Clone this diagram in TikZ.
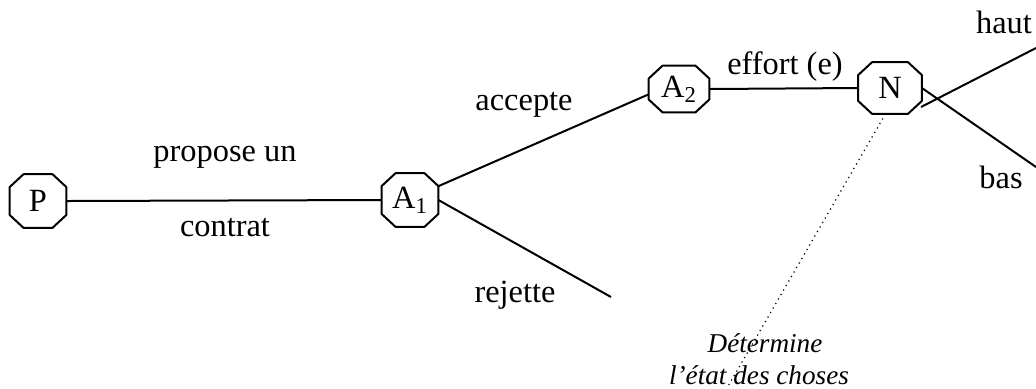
\documentclass[tikz,border=0pt]{standalone}
\usepackage{fontspec}
\setmainfont{Liberation Serif}
\begin{document}
\begin{tikzpicture}[x=0.5pt,y=-0.5pt,
  player/.style={rectangle, inner sep=0pt, font=\fontsize{16.2}{19}\selectfont},
  octagon/.style={line width=1pt, line join=round},
  branch/.style={line width=1pt},
  chance/.style={line width=0.6pt, dotted},
  lbl/.style={font=\fontsize{16.2}{19}\selectfont, inner sep=0pt},
  note/.style={font=\fontsize{13.6}{16}\selectfont\itshape, inner sep=0pt}]
\useasboundingbox (0,0) rectangle (1036,388);

% decision nodes (octagonal outlines are drawn round them below)
\node[player, minimum width=28pt, minimum height=26.5pt] (P)  at (38,201) {P};
\node[player, minimum width=28pt, minimum height=26.5pt] (A1) at (410,200) {A\textsubscript{1}};
\node[player, minimum width=30pt, minimum height=23pt]   (A2) at (679,89) {A\textsubscript{2}};
\node[player, minimum width=31.5pt, minimum height=25.5pt] (N) at (890,88) {N};

\foreach \n in {P,A1,A2,N}
  \draw[octagon]
    ([xshift=7pt]\n.north west) -- ([xshift=-7pt]\n.north east)
    -- ([yshift=-6.5pt]\n.north east) -- ([yshift=6.5pt]\n.south east)
    -- ([xshift=-7pt]\n.south east) -- ([xshift=7pt]\n.south west)
    -- ([yshift=6.5pt]\n.south west) -- ([yshift=-6.5pt]\n.north west) -- cycle;

% free ends of the branches
\coordinate (rej)  at (611,297);
\coordinate (hs)   at (921,107);
\coordinate (haut) at (1036,48);
\coordinate (bas)  at (1036,167);
\coordinate (det)  at (727,388);

% branches
\draw[branch] (P.east) -- (A1.west);
\draw[branch] (A1.26) -- (A2.190);
\draw[branch] (A1.east) -- (rej);
\draw[branch] (A2.east) -- (N.west);
\draw[branch] (hs) -- (haut);
\draw[branch] (N.east) -- (bas);
\draw[chance] (N.-100) -- (det);

% labels
\node[lbl] (l1) at (225,157) {propose un};
\node[lbl] (l2) at (225,228) {contrat};
\node[lbl] (l3) at (524,105) {accepte};
\node[lbl] (l4) at (515,295) {rejette};
\node[lbl] (l5) at (785,67)  {effort (e)};
\node[lbl] (l6) at (1004,22) {haut};
\node[lbl] (l7) at (1001,177) {bas};
\node[note] (n1) at (765,343) {Détermine};
\node[note] (n2) at (759,375) {l’état des choses};
\end{tikzpicture}
\end{document}
